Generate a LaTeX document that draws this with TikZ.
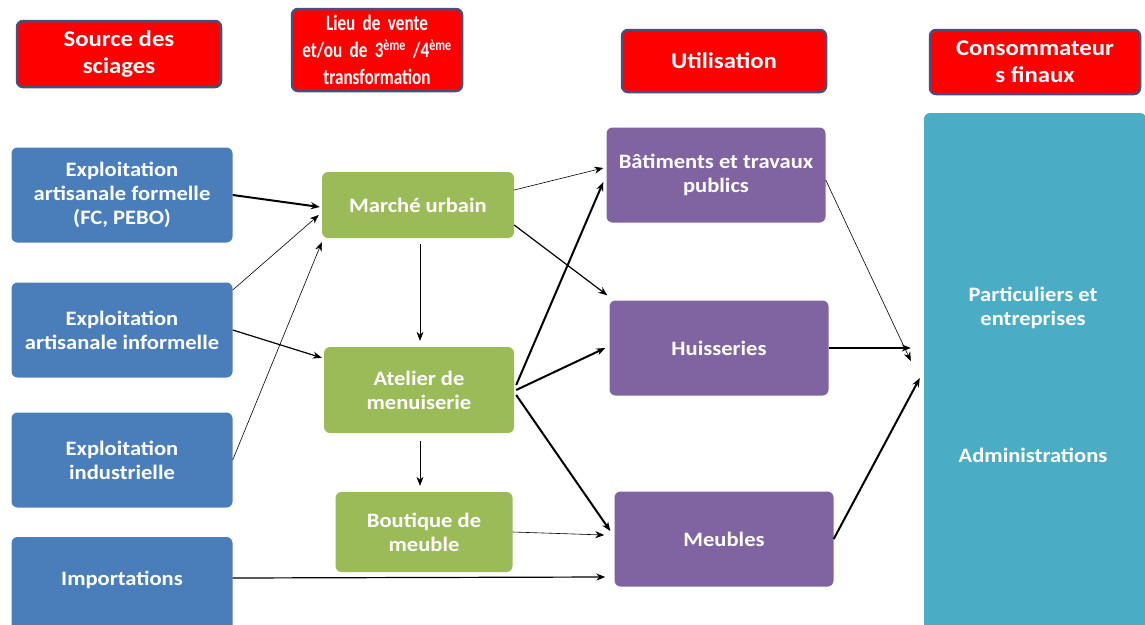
\documentclass[tikz,border=0pt]{standalone}
\usepackage{fontspec}
\setmainfont{Carlito}[FakeStretch=1.1]
\newfontfamily\narrowfont{Carlito}[FakeStretch=0.78]
\usetikzlibrary{arrows.meta,calc}
\definecolor{hdrred}{HTML}{FF0000}
\definecolor{hdrborder}{HTML}{46507A}
\definecolor{srcblue}{HTML}{4A7EBB}
\definecolor{grn}{HTML}{9BBB59}
\definecolor{prp}{HTML}{8064A2}
\definecolor{teal}{HTML}{4BACC6}
\tikzset{
  box/.style={rounded corners=6pt, text=white, align=center, inner sep=2pt,
    font=\bfseries\fontsize{20.5}{24}\selectfont},
  hdr/.style={box, fill=hdrred, draw=hdrborder, line width=2.5pt,
    font=\bfseries\fontsize{22.5}{27}\selectfont},
  src/.style={box, fill=srcblue, minimum width=221pt, minimum height=95pt},
  mid/.style={box, fill=grn},
  use/.style={box, fill=prp, minimum width=219pt, minimum height=95pt},
  lbl/.style={text=white, align=center, font=\bfseries\fontsize{20.5}{24}\selectfont},
  arr/.style={-{Stealth[length=9pt,width=7pt]}, black},
  thin/.style={arr, line width=0.6pt},
  med/.style={arr, line width=1.2pt},
  thick/.style={arr, line width=2pt},
}
\begin{document}
\begin{tikzpicture}[x=1pt,y=-1pt]
\clip (0,0) rectangle (1145,624);
\fill[white] (0,0) rectangle (1145,624);
% headers
\node[hdr, minimum width=204pt, minimum height=66pt] (h1) at (119,54) {Source des\\sciages};
\node[hdr, minimum width=170pt, minimum height=82pt, text width=160pt,
  font=\narrowfont\bfseries\fontsize{22}{27}\selectfont] (h2) at (377,50) {Lieu de vente\\et/ou de 3\textsuperscript{ème} /4\textsuperscript{ème}\\transformation};
\node[hdr, minimum width=204pt, minimum height=62pt] (h3) at (724,61) {Utilisation};
\node[hdr, minimum width=210pt, minimum height=64pt] (h4) at (1035,62) {Consommateur\\s finaux};
% sources
\node[src] (b1) at (122,195) {Exploitation\\artisanale formelle\\(FC, PEBO)};
\node[src] (b2) at (122,330) {Exploitation\\artisanale informelle};
\node[src] (b3) at (122,460) {Exploitation\\industrielle};
\node[src, minimum height=110pt] (b4) at (122,592) {};
\node[lbl] (b4t) at (122,580) {Importations};
% green
\node[mid, minimum width=192pt, minimum height=66pt] (g1) at (418,205) {Marché urbain};
\node[mid, minimum width=190pt, minimum height=86pt] (g2) at (419,390) {Atelier de\\menuiserie};
\node[mid, minimum width=177pt, minimum height=80pt] (g3) at (424,532) {Boutique de\\meuble};
% purple
\node[use] (p1) at (716,175) {Bâtiments et travaux\\publics};
\node[use] (p2) at (719,348) {Huisseries};
\node[use] (p3) at (724,539) {Meubles};
% consumers
\node[box, fill=teal, minimum width=222pt, minimum height=540pt] (t) at (1035,383) {};
\node[lbl] (t1) at (1033,308) {Particuliers et\\entreprises};
\node[lbl] (t2) at (1033,455) {Administrations};
% end points near consumers box
\coordinate (c14) at ($(t.west)+(-13,-22)$);
\coordinate (c15) at ($(t.west)+(-13,-35)$);
\coordinate (c16) at ($(t.west)+(-4,-5)$);
% arrows
\draw[thick] (b1.east) -- ($(g1.west)+(-2,2)$);
\draw[thin] ($(b2.east)+(0,-40)$) -- ($(g1.west)+(-3,10)$);
\draw[med] (b2.east) -- ($(g2.north west)+(-2,11)$);
\draw[thin] (b3.east) -- ($(g1.south west)+(0,4)$);
\draw[thin] ($(g1.east)+(0,-15)$) -- ($(p1.west)+(-3,-7)$);
\draw[med] ($(g1.east)+(0,20)$) -- ($(p2.north west)+(-2,-5)$);
\draw[thin] ($(g1.south)+(2,6)$) -- ($(g1.south |- g2.north)+(2,-6)$);
\draw[thin] ($(g2.south)+(1,8)$) -- ($(g2.south |- g3.north)+(1,-6)$);
\draw[thick] ($(g2.east)+(2,-5)$) -- ($(p1.west)+(-3,7)$);
\draw[thick] ($(g2.east)+(2,0)$) -- ($(p2.west)+(-4,0)$);
\draw[thick] ($(g2.east)+(2,5)$) -- ($(p3.west)+(-4,-8)$);
\draw[thin] (g3.east) -- ($(p3.west)+(-10,-4)$);
\draw[med] ($(b4.east)+(0,-14)$) -- ($(p3.west)+(-9,38)$);
\draw[thin] ($(p1.east)+(0,5)$) -- (c14);
\draw[med] (p2.east) -- (c15);
\draw[thick] (p3.east) -- (c16);
\end{tikzpicture}
\end{document}
